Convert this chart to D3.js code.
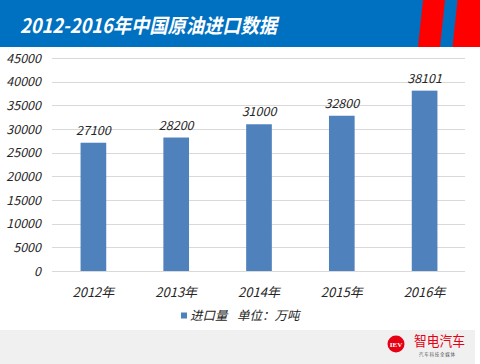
<!DOCTYPE html>
<html>
<head>
<meta charset="utf-8">
<script src="https://d3js.org/d3.v7.min.js"></script>
<style>
body { margin: 0; background: #fff; }
svg { display: block; font-family: "Noto Sans CJK SC", "Noto Sans", sans-serif; }
</style>
</head>
<body>
<svg width="480" height="364"></svg>
<script>
var title = "2012-2016年中国原油进口数据";
var years = ["2012年", "2013年", "2014年", "2015年", "2016年"];
var imports = [27100, 28200, 31000, 32800, 38101];
var yTicks = [0, 5000, 10000, 15000, 20000, 25000, 30000, 35000, 40000, 45000];
var seriesName = "进口量";
var unitText = "单位：万吨";

var margin = { top: 58, left: 52, right: 14, bottom: 93 };
var width = 480, height = 364;

var svg = d3.select("svg");

// title bar
svg.append("path")
    .attr("d", "M0,0L483,0L478,47L0,47Z")
    .attr("fill", "#0070c0");
svg.append("path")
    .attr("d", "M423,0L445,0L440,47L418,47Z")
    .attr("fill", "#ff0000");
svg.append("path")
    .attr("d", "M457.5,0L485,0L480,47L452.5,47Z")
    .attr("fill", "#ff0000");
svg.append("text")
    .attr("x", 20).attr("y", 33)
    .attr("fill", "#fff")
    .attr("font-size", 20)
    .attr("font-weight", "bold")
    .attr("font-style", "italic")
    .attr("textLength", 257)
    .attr("lengthAdjust", "spacingAndGlyphs")
    .text(title);

var x = d3.scaleBand()
    .domain(years)
    .range([margin.left, width - margin.right])
    .paddingInner(0.69)
    .paddingOuter(0.345);

var y = d3.scaleLinear()
    .domain([0, 45000])
    .range([height - margin.bottom, margin.top]);

// gridlines
svg.append("g")
    .selectAll("line")
    .data(yTicks)
    .enter().append("line")
    .attr("x1", margin.left).attr("x2", width - margin.right - 1)
    .attr("y1", function(d) { return Math.round(y(d)) + 0.5; })
    .attr("y2", function(d) { return Math.round(y(d)) + 0.5; })
    .attr("stroke", "#d9d9d9")
    .attr("stroke-width", 1);

// y tick labels
svg.append("g")
    .selectAll("text")
    .data(yTicks)
    .enter().append("text")
    .attr("x", 41)
    .attr("y", function(d) { return y(d) + 4.5; })
    .attr("text-anchor", "end")
    .attr("font-size", 12.5)
    .attr("font-style", "italic")
    .attr("fill", "#262626")
    .text(function(d) { return d; });

// bars
svg.append("g")
    .selectAll("rect")
    .data(imports)
    .enter().append("rect")
    .attr("x", function(d, i) { return x(years[i]); })
    .attr("width", x.bandwidth())
    .attr("y", function(d) { return y(d); })
    .attr("height", function(d) { return y(0) - y(d); })
    .attr("fill", "#4f81bd");

// value labels
svg.append("g")
    .selectAll("text")
    .data(imports)
    .enter().append("text")
    .attr("x", function(d, i) { return x(years[i]) + x.bandwidth() / 2; })
    .attr("y", function(d) { return y(d) - 8; })
    .attr("text-anchor", "middle")
    .attr("font-size", 12.5)
    .attr("font-style", "italic")
    .attr("fill", "#262626")
    .text(function(d) { return d; });

// x labels
svg.append("g")
    .selectAll("text")
    .data(years)
    .enter().append("text")
    .attr("x", function(d) { return x(d) + x.bandwidth() / 2; })
    .attr("y", 296.5)
    .attr("text-anchor", "middle")
    .attr("font-size", 13)
    .attr("font-style", "italic")
    .attr("fill", "#262626")
    .text(function(d) { return d; });

// legend
svg.append("rect")
    .attr("x", 181).attr("y", 312.5)
    .attr("width", 6).attr("height", 6)
    .attr("fill", "#4f81bd");
svg.append("text")
    .attr("x", 190).attr("y", 320)
    .attr("font-size", 12.5)
    .attr("font-style", "italic")
    .attr("fill", "#262626")
    .text(seriesName);
svg.append("text")
    .attr("x", 237).attr("y", 320)
    .attr("font-size", 12.5)
    .attr("font-style", "italic")
    .attr("fill", "#262626")
    .text(unitText);

// footer
svg.append("rect")
    .attr("x", 0).attr("y", 330)
    .attr("width", 475).attr("height", 34)
    .attr("fill", "#f0f0f0");
svg.append("circle")
    .attr("cx", 396).attr("cy", 344).attr("r", 8.5)
    .attr("fill", "#e60012");
svg.append("text")
    .attr("x", 396).attr("y", 346.5)
    .attr("text-anchor", "middle")
    .attr("font-family", "Liberation Serif, serif")
    .attr("font-weight", "bold")
    .attr("font-size", 7)
    .attr("fill", "#fff")
    .text("IEV");
svg.append("text")
    .attr("x", 414).attr("y", 346)
    .attr("font-size", 13.5)
    .attr("fill", "#e60012")
    .attr("textLength", 51)
    .attr("lengthAdjust", "spacingAndGlyphs")
    .text("智电汽车");
svg.append("text")
    .attr("x", 419).attr("y", 356)
    .attr("font-size", 4.5)
    .attr("fill", "#555")
    .attr("textLength", 36)
    .text("汽车科技全媒体");
</script>
</body>
</html>
